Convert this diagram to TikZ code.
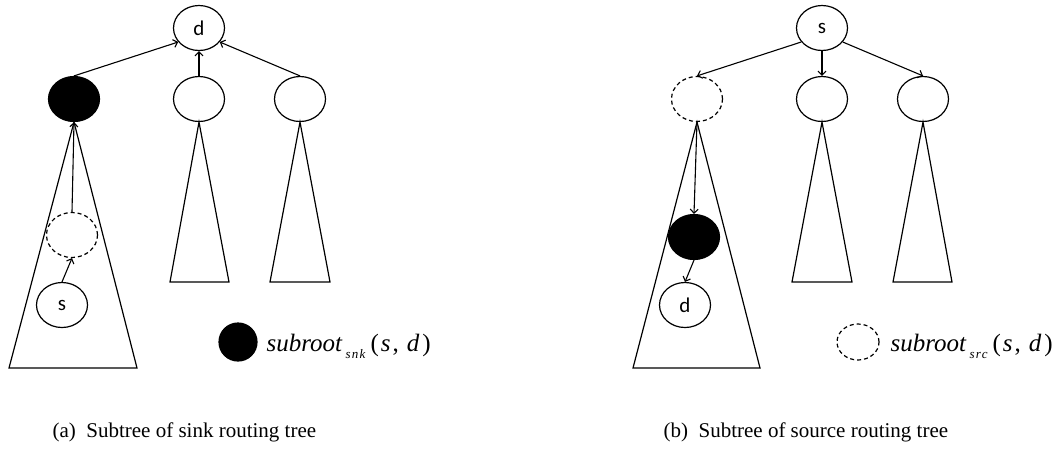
\documentclass[tikz,border=0pt]{standalone}
\usepackage{fontspec}
\setmainfont{Liberation Serif}
\newfontfamily\lblfont{Carlito}
\newfontfamily\subfont[LetterSpace=10]{Liberation Serif}
\usetikzlibrary{arrows.meta,shapes.geometric}
\newcommand{\legsub}[1]{\raisebox{-7pt}{\subfont\fontsize{13}{13}\selectfont\itshape #1}}
\newcommand{\legargs}{\kern5pt(\kern2pt\textit{s}\kern2pt,\kern8pt\textit{d}\kern3pt)}
\begin{document}
\begin{tikzpicture}[x=1pt,y=-1pt,line width=1.2pt,
  nd/.style={draw,ellipse,minimum width=51pt,minimum height=45pt,inner sep=0pt,fill=white,font=\lblfont\fontsize{21}{21}\selectfont},
  blk/.style={nd,fill=black},
  dsh/.style={nd,dashed,dash pattern=on 4pt off 3pt},
  arr/.style={-{Straight Barb[length=4pt,width=8pt]},line width=1.1pt},
  tri/.style={draw,line join=miter},
  legtxt/.style={anchor=base west,inner sep=0pt,font=\fontsize{25}{25}\selectfont},
  captxt/.style={anchor=base west,inner sep=0pt,font=\fontsize{21}{21}\selectfont}]
\useasboundingbox (0,0) rectangle (1064,448);
% ---------- left panel ----------
\node[nd] (d1) at (199,28) {d};
\node[blk] (b1) at (74,99) {};
\node[nd] (m1) at (199,99) {};
\node[nd] (r1) at (300,99) {};
\node[dsh] (x1) at (72,235) {};
\node[nd] (s1) at (62,305) {s};
\draw[tri] (b1.south) -- (137,368) -- (9,368) -- cycle;
\draw[tri] (m1.south) -- (229,282) -- (170,282) -- cycle;
\draw[tri] (r1.south) -- (330,282) -- (270,282) -- cycle;
\draw[arr] (b1.north) -- (d1.214);
\draw[arr] (m1.north) -- (d1.south);
\draw[arr] (r1.north) -- (d1.326);
\draw[arr] (x1.north) -- (b1.south);
\draw[arr] (s1.north) -- (x1.south);
\node[draw,fill=black,circle,minimum size=38pt,inner sep=0pt] (lg1) at (238,342) {};
\node[legtxt] (lt1) at (266,351) {\textit{subroot}\kern3pt\legsub{snk}\legargs};
\node[captxt] (c1) at (52,437) {(a)\ \ Subtree of sink routing tree};
% ---------- right panel ----------
\node[nd] (s2) at (822,28) {s};
\node[dsh] (x2) at (697,99) {};
\node[nd] (m2) at (822,99) {};
\node[nd] (r2) at (923,99) {};
\node[blk] (b2) at (694,237) {};
\node[nd] (d2) at (685,305) {d};
\draw[tri] (x2.south) -- (760,368) -- (633,368) -- cycle;
\draw[tri] (m2.south) -- (852,282) -- (792,282) -- cycle;
\draw[tri] (r2.south) -- (952,282) -- (893,282) -- cycle;
\draw[arr] (s2.214) -- (x2.north);
\draw[arr] (s2.south) -- (m2.north);
\draw[arr] (s2.326) -- (r2.north);
\draw[arr] (x2.south) -- (b2.north);
\draw[arr] (b2.south) -- (d2.north);
\node[draw,ellipse,dashed,dash pattern=on 4pt off 3pt,minimum width=42pt,minimum height=36pt,inner sep=0pt] (lg2) at (858,342) {};
\node[legtxt] (lt2) at (890,351) {\textit{subroot}\kern3pt\legsub{src}\legargs};
\node[captxt] (c2) at (663,437) {(b)\ \ Subtree of source routing tree};
\end{tikzpicture}
\end{document}
